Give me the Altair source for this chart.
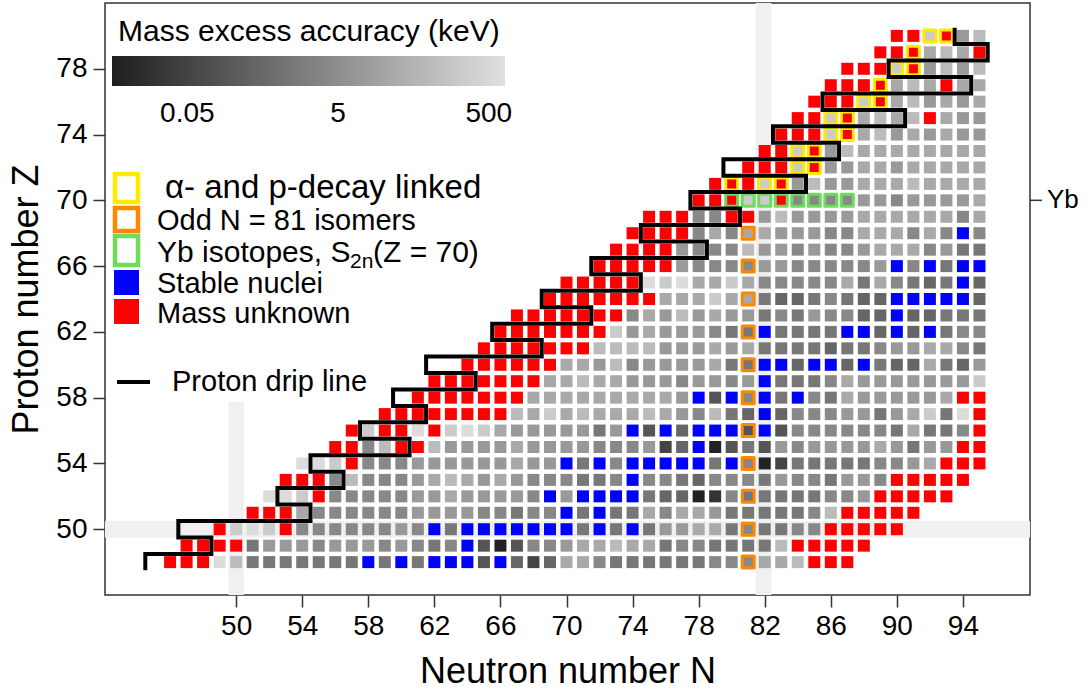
import math
import altair as alt
import pandas as pd

# ---------------- data ----------------
# One row per proton number Z: first neutron number N of the row and one
# code per cell: R = mass unknown, B = stable, hex digit = grey level of
# the mass-excess accuracy (2 = darkest ... d = lightest)
ROW_Z = list(range(48, 81))
ROW_FIRST_N = [46, 47, 49, 51, 52, 53, 54, 56, 57, 59, 61, 62, 64, 65, 66, 67,
               69, 70, 72, 73, 74, 75, 78, 79, 81, 82, 83, 84, 85, 86, 87, 89, 90]
ROW_CELLS = [
    "RRRdb7777777B7B7BBB5B646aa8777777888aabRRR",    # 48
    "RRRR7999899989878B525889aabaa7887777bRRRRR",    # 49
    "RcdcR88888898B7BBBBBBB7B7B799aa787788RRRRR",    # 50
    "RRRa888888999988788B7B77a8aa9777778bRRRRR",     # 51
    "ddcR8888899a99998B9BBBB76623877777889RRRRR",    # 52
    "RRR8b8889aba9a9888778B887688879887998RRRRR",    # 53
    "ddcR888999999a99B7B8BBBBB7B82477777889aRRR",    # 54
    "RR8bRRb9999a9999888946B2575989999a9799RR",      # 55
    "RcRRdRcdca9999979B5B6BBB5B58888887a778R",       # 56
    "RRRRRRRRbacabaaaba98b76B68889979ac7dR",         # 57
    "RRRRRRRaaaaaaaaa9B5B8B7B87a99999aRR",           # 58
    "RRRRRRRaabaa99989989B7778a9999999c",            # 59
    "RRRRRRaa9b89999a77BB6BB6B766a769",              # 60
    "RRRRRRRbbbb999a9a7777677899aa87",               # 61
    "RRRRRRRc9a999877B7777BB6B6B788",                # 62
    "RRRRRRR8a9b9a9978798866B66777",                 # 63
    "RRRRRRRaaacaa76678766BBBBB6",                   # 64
    "RRRRRdcdaaca88888a7a8767B6",                    # 65
    "RRRRR9888899888889B8B7BB",                      # 66
    "RRRR9888b9989889aaa8977",                       # 67
    "RRRR8a8aa99988aaa8a8B8",                        # 68
    "RRR88RR9b9999aaaaaa8a",                         # 69
    "RRRccR88889989999a",                            # 70
    "RRRcR9b99aaabaaaa",                             # 71
    "RRRcR99aa9aaaaa",                               # 72
    "RRcR9baaaaaaaa",                                # 73
    "RRRcRab9a9a99",                                 # 74
    "RRcRababRa99",                                  # 75
    "RRRcRab9a9a",                                   # 76
    "RRRRabaRaa",                                    # 77
    "RRRcR9b9b",                                     # 78
    "RRRabaR",                                       # 79
    "RRcR9b",                                        # 80
]
# accuracy (keV) that each grey level stands for on the colour bar
GREY_KEV = {"2": 0.0064, "3": 0.018, "4": 0.052, "5": 0.15, "6": 0.43,
            "7": 1.2, "8": 3.5, "9": 9.9, "a": 28.0, "b": 81.0,
            "c": 230.0, "d": 660.0}

YELLOW_N = [80, 82, 83, 84, 85, 84, 85, 86, 87, 86, 87, 88, 89, 89, 90, 91, 91, 92, 93]
YELLOW_Z = [71, 71, 71, 72, 72, 73, 73, 74, 74, 75, 75, 76, 76, 77, 78, 78, 79, 80, 80]
ORANGE_N = [81, 81, 81, 81, 81, 81, 81, 81, 81, 81, 81]
ORANGE_Z = [48, 50, 52, 54, 56, 58, 60, 62, 64, 66, 68]
GREEN_N = [80, 81, 82, 83, 84, 85, 86, 87]
GREEN_Z = [70, 70, 70, 70, 70, 70, 70, 70]

DRIP_N = [44.5, 44.5, 48.5, 48.5, 46.5, 46.5, 54.5, 54.5, 52.5, 52.5, 56.5,
          56.5, 54.5, 54.5, 60.5, 60.5, 57.5, 57.5, 61.5, 61.5, 59.5, 59.5,
          64.5, 64.5, 61.5, 61.5, 68.5, 68.5, 65.5, 65.5, 71.5, 71.5, 68.5,
          68.5, 74.5, 74.5, 71.5, 71.5, 78.5, 78.5, 74.5, 74.5, 80.5, 80.5,
          77.5, 77.5, 84.5, 84.5, 79.5, 79.5, 86.5, 86.5, 82.5, 82.5, 90.5,
          90.5, 85.5, 85.5, 94.5, 94.5, 89.5, 89.5, 95.5, 95.5, 93.5, 93.5]
DRIP_Z = [47.5, 48.5, 48.5, 49.5, 49.5, 50.5, 50.5, 51.5, 51.5, 52.5, 52.5,
          53.5, 53.5, 54.5, 54.5, 55.5, 55.5, 56.5, 56.5, 57.5, 57.5, 58.5,
          58.5, 59.5, 59.5, 60.5, 60.5, 61.5, 61.5, 62.5, 62.5, 63.5, 63.5,
          64.5, 64.5, 65.5, 65.5, 66.5, 66.5, 67.5, 67.5, 68.5, 68.5, 69.5,
          69.5, 70.5, 70.5, 71.5, 71.5, 72.5, 72.5, 73.5, 73.5, 74.5, 74.5,
          75.5, 75.5, 76.5, 76.5, 77.5, 77.5, 78.5, 78.5, 79.5, 79.5, 80.5]

SHELL_N = [50, 82]        # highlighted neutron shells
SHELL_Z = [50]            # highlighted proton shell
ACC_DOMAIN = [0.005, 820]
ACC_TICKS = [0.05, 5, 500]
X_TICKS = [50, 54, 58, 62, 66, 70, 74, 78, 82, 86, 90, 94]
Y_TICKS = [50, 54, 58, 62, 66, 70, 74, 78]

# ---------------- tables ----------------
grey, red, blue = [], [], []
for z, n0, cells in zip(ROW_Z, ROW_FIRST_N, ROW_CELLS):
    for i, c in enumerate(cells):
        rec = {"N": n0 + i, "Z": z}
        if c == "R":
            red.append(rec)
        elif c == "B":
            blue.append(rec)
        else:
            rec["acc"] = GREY_KEV[c]
            grey.append(rec)
grey_df, red_df, blue_df = pd.DataFrame(grey), pd.DataFrame(red), pd.DataFrame(blue)
yellow_df = pd.DataFrame({"N": YELLOW_N, "Z": YELLOW_Z})
orange_df = pd.DataFrame({"N": ORANGE_N, "Z": ORANGE_Z})
green_df = pd.DataFrame({"N": GREEN_N, "Z": GREEN_Z})
drip_df = pd.DataFrame({"N": DRIP_N, "Z": DRIP_Z, "k": list(range(len(DRIP_N)))})

XMIN, XMAX, YMIN, YMAX = 42.06, 98.06, 46.0, 82.0
bands = [{"n1": SHELL_N[0] - 0.46, "n2": SHELL_N[0] + 0.46, "z1": YMIN, "z2": 57.73},
         {"n1": SHELL_N[1] - 0.55, "n2": SHELL_N[1] + 0.4, "z1": YMIN, "z2": YMAX},
         {"n1": XMIN, "n2": XMAX, "z1": SHELL_Z[0] - 0.5, "z2": SHELL_Z[0] + 0.5}]
band_df = pd.DataFrame(bands)

FONT = "Liberation Sans"
W, H = 925, 592
xs = alt.Scale(domain=[XMIN, XMAX], nice=False, zero=False)
ys = alt.Scale(domain=[YMIN, YMAX], nice=False, zero=False)
xa = alt.Axis(values=X_TICKS, title="Neutron number N", labelFontSize=28,
              titleFontSize=36, labelPadding=5, titlePadding=14)
ya = alt.Axis(values=Y_TICKS, title="Proton number Z", labelFontSize=28,
              titleFontSize=36, labelPadding=6, titlePadding=10)
X = alt.X("N:Q", scale=xs, axis=xa)
Y = alt.Y("Z:Q", scale=ys, axis=ya)

band_layer = alt.Chart(band_df).mark_rect(color="#f0f0f0").encode(
    x=alt.X("n1:Q", scale=xs, axis=xa), x2="n2",
    y=alt.Y("z1:Q", scale=ys, axis=ya), y2="z2")

# colour bar geometry (pixels inside the plot area)
GX, GY, GLEN, GTHICK = 7, 53, 393, 30

grey_layer = alt.Chart(grey_df).mark_square(size=144, opacity=1, strokeWidth=0).encode(
    x=X, y=Y,
    color=alt.Color("acc:Q",
                    scale=alt.Scale(type="log", domain=ACC_DOMAIN,
                                    range=["#1e1e1e", "#e0e0e0"], interpolate="rgb"),
                    legend=alt.Legend(orient="none", legendX=GX, legendY=GY,
                                      direction="horizontal", values=ACC_TICKS,
                                      format="~g", title=None, padding=0,
                                      labelFontSize=28, labelFont=FONT, labelColor="black",
                                      labelOffset=14, labelOverlap=False,
                                      gradientLength=GLEN, gradientThickness=GTHICK,
                                      gradientStrokeWidth=0)))

red_layer = alt.Chart(red_df).mark_square(size=144, opacity=1, color="#ff0000",
                                          strokeWidth=0).encode(x=X, y=Y)
blue_layer = alt.Chart(blue_df).mark_square(size=144, opacity=1, color="#0000ff",
                                            strokeWidth=0).encode(x=X, y=Y)


def outline(df, col):
    return alt.Chart(df).mark_square(size=144, filled=False, opacity=1, stroke=col,
                                     strokeWidth=3, strokeJoin="round").encode(x=X, y=Y)


drip_layer = alt.Chart(drip_df).mark_line(color="black", strokeWidth=4,
                                          strokeJoin="miter").encode(
    x=X, y=Y, order="k:Q")

one = alt.Data(values=[{}])


def box(x1, x2, y1, y2, col, filled):
    if filled:
        m = alt.Chart(one).mark_rect(color=col)
    else:
        m = alt.Chart(one).mark_rect(filled=False, stroke=col, strokeWidth=4.5)
    return m.encode(x=alt.value(x1), x2=alt.value(x2), y=alt.value(y1), y2=alt.value(y2))


def label(txt, x, y, size=29):
    return alt.Chart(one).mark_text(text=txt, font=FONT, fontSize=size, align="left",
                                    baseline="middle", color="black").encode(
        x=alt.value(x), y=alt.value(y))


# small white tick dashes on the colour bar at the labelled values
lo, hi = math.log10(ACC_DOMAIN[0]), math.log10(ACC_DOMAIN[1])
bar_ticks = []
for v in ACC_TICKS:
    px = GX + GLEN * (math.log10(v) - lo) / (hi - lo)
    for y1, y2 in [(GY, GY + 5), (GY + GTHICK - 5, GY + GTHICK)]:
        bar_ticks.append(alt.Chart(one).mark_rule(color="white", strokeWidth=1.5).encode(
            x=alt.value(px), y=alt.value(y1), y2=alt.value(y2)))

legend_layers = [
    label("Mass excess accuracy (keV)", 13, 29, 30),
    box(10, 33, 171, 199, "#ffea00", False),
    box(10, 33, 205, 228, "#ff8800", False),
    box(10, 33, 233, 262, "#6ddc5a", False),
    box(9, 34, 267, 292, "#0000ff", True),
    box(9, 34, 296, 321, "#ff0000", True),
    alt.Chart(one).mark_rule(color="black", strokeWidth=4).encode(
        x=alt.value(12), x2=alt.value(45), y=alt.value(379)),
    label("\u03b1- and p-decay linked", 60, 185, 33),
    label("Odd N = 81 isomers", 52, 218),
    label("Yb isotopes, S", 52, 250, 30),
    label("2n", 245, 259, 21),
    label("(Z = 70)", 268, 250, 30),
    label("Stable nuclei", 52, 281),
    label("Mass unknown", 52, 311),
    label("Proton drip line", 67, 379),
] + bar_ticks

yb_df = pd.DataFrame({"Z": [70]})
yb_tick = alt.Chart(yb_df).mark_rule(color="#333333", strokeWidth=1.5).encode(
    x=alt.value(W), x2=alt.value(W + 12), y=Y)
yb_text = alt.Chart(yb_df).mark_text(text="Yb", font=FONT, fontSize=26, align="left",
                                     baseline="middle", color="black").encode(
    x=alt.value(W + 17), y=Y)

chart = alt.layer(
    band_layer, grey_layer, red_layer, blue_layer,
    outline(orange_df, "#ff8800"), outline(green_df, "#6ddc5a"),
    outline(yellow_df, "#ffea00"), drip_layer, yb_tick, yb_text, *legend_layers
).properties(
    width=W, height=H,
    autosize=alt.AutoSizeParams(type="none"),
    padding={"left": 105, "top": 3, "right": 59, "bottom": 95},
    background="white",
).configure_view(
    stroke="#333333", strokeWidth=1.5
).configure_axis(
    grid=False, domain=False, tickColor="#333333", tickWidth=1.5, tickSize=12,
    labelFont=FONT, labelColor="black", titleFont=FONT, titleColor="black",
    titleFontWeight="normal"
)

chart.save("out.html", embed_options={"renderer": "svg", "actions": False})
